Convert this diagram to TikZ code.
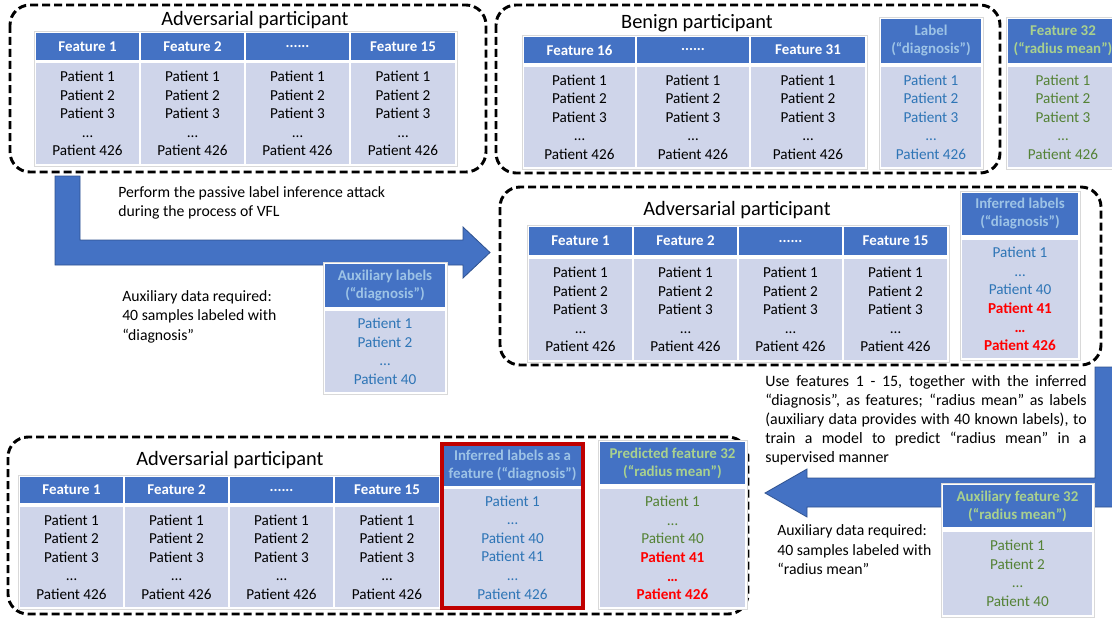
\documentclass[tikz,border=0pt]{standalone}
\usepackage{fontspec}
\setmainfont{Carlito}
\usepackage{tikz}
\definecolor{hdrblue}{HTML}{4472C4}
\definecolor{cellblue}{HTML}{CFD5EA}
\definecolor{lblblue}{HTML}{9DC3E6}
\definecolor{txtblue}{HTML}{2E75B6}
\definecolor{lblgreen}{HTML}{A9D18E}
\definecolor{txtgreen}{HTML}{548235}
\definecolor{txtred}{HTML}{FF0000}
\definecolor{boxred}{HTML}{C00000}
\definecolor{arrowedge}{HTML}{2F528F}
\newcommand{\sixdots}{......}

\begin{document}
\begin{tikzpicture}[x=0.75pt,y=-0.75pt,
    grp/.style={line width=2.2pt,dash pattern=on 6pt off 3pt,rounded corners=15pt},
    frm/.style={draw=black!15,fill=white,line width=0.5pt},
    hdr/.style={fill=hdrblue},
    cell/.style={fill=cellblue},
    hdrtxt/.style={text=white,align=center,font=\bfseries\fontsize{11.2}{13.5}\selectfont},
    rowtxt/.style={align=center,font=\fontsize{11.4}{13.9}\selectfont},
    ttl/.style={font=\fontsize{15.3}{18}\selectfont},
    note/.style={align=left,anchor=west,inner sep=0pt,font=\fontsize{11.8}{14.6}\selectfont},
    bigarrow/.style={fill=hdrblue,draw=arrowedge,line width=0.6pt}]
        \useasboundingbox (0,0) rectangle (1112,617);
        % Arrows
        \draw[bigarrow] (55,176) -- (80,176) -- (80,240) -- (463,240) -- (463,227)
            -- (490,252.5) -- (463,278) -- (463,265) -- (55,265) -- cycle;
        \draw[bigarrow] (1095,367) -- (1125,367) -- (1125,507) -- (807,507) -- (807,517)
            -- (765,493) -- (807,469) -- (807,478) -- (1095,478) -- cycle;

        % Adversarial participant (top)
        \draw[grp] (10,5) rectangle (486,172);
        \node[ttl] (advTop) at (255,20) {Adversarial participant};
        \draw[frm] (34,31) rectangle (457,166);
        \foreach \xa/\xb/\hd [count=\i] in {36/139/Feature 1,141/244/Feature 2,246/349/\sixdots,351/455/Feature 15}{
            \fill[hdr] (\xa,33) rectangle (\xb,60) node[pos=.5,hdrtxt] (topH\i) {\hd};
            \fill[cell] (\xa,63) rectangle (\xb,164) node[pos=.5,rowtxt] (topC\i) {Patient 1\\Patient 2\\Patient 3\\…\\Patient 426};
        }

        % Benign participant
        \draw[grp] (496,5) rectangle (1000,173);
        \node[ttl] (benTop) at (697,23) {Benign participant};
        \draw[frm] (522,35) rectangle (867,169);
        \foreach \xa/\xb/\hd [count=\i] in {524/635/Feature 16,637/749/\sixdots,751/865/Feature 31}{
            \fill[hdr] (\xa,37) rectangle (\xb,63) node[pos=.5,hdrtxt] (benH\i) {\hd};
            \fill[cell] (\xa,67) rectangle (\xb,167) node[pos=.5,rowtxt] (benC\i) {Patient 1\\Patient 2\\Patient 3\\…\\Patient 426};
        }
        \draw[frm] (879,17) rectangle (983,169);
        \fill[hdr] (881,19) rectangle (981,63) node[pos=.5,hdrtxt,text=lblblue] (lblH) {Label\\(“diagnosis”)};
        \fill[cell] (881,67) rectangle (981,167) node[pos=.5,rowtxt,text=txtblue] (lblC) {Patient 1\\Patient 2\\Patient 3\\…\\Patient 426};
        \draw[frm] (1006,17) rectangle (1120,169);
        \fill[hdr] (1008,19) rectangle (1118,63) node[pos=.5,hdrtxt,text=lblgreen] (radH) {Feature 32\\(“radius mean”)};
        \fill[cell] (1008,67) rectangle (1118,167) node[pos=.5,rowtxt,text=txtgreen] (radC) {Patient 1\\Patient 2\\Patient 3\\…\\Patient 426};

        % Step 1 notes
        \node[note] (attackTxt) at (118,203) {Perform the passive label inference attack\\during the process of VFL};
        \node[note] (auxTxtA) at (122,316.5) {Auxiliary data required:\\40 samples labeled with\\“diagnosis”};
        \draw[frm] (323,262) rectangle (447,394);
        \fill[hdr] (325,264) rectangle (445,307) node[pos=.5,hdrtxt,text=lblblue] (auxLblH) {Auxiliary labels\\(“diagnosis”)};
        \fill[cell] (325,311) rectangle (445,392) node[pos=.5,rowtxt,text=txtblue] (auxLblC) {Patient 1\\Patient 2\\…\\Patient 40};

        % Adversarial participant (middle)
        \draw[grp] (500,187) rectangle (1101,365);
        \node[ttl] (advMid) at (737,210) {Adversarial participant};
        \draw[frm] (527,225) rectangle (949,362);
        \foreach \xa/\xb/\hd [count=\i] in {529/632/Feature 1,634/737/Feature 2,739/842/\sixdots,844/947/Feature 15}{
            \fill[hdr] (\xa,227) rectangle (\xb,255) node[pos=.5,hdrtxt] (midH\i) {\hd};
            \fill[cell] (\xa,259) rectangle (\xb,360) node[pos=.5,rowtxt] (midC\i) {Patient 1\\Patient 2\\Patient 3\\…\\Patient 426};
        }
        \draw[frm] (960,191) rectangle (1080,360);
        \fill[hdr] (962,193) rectangle (1078,235) node[pos=.5,hdrtxt,text=lblblue] (infH) {Inferred labels\\(“diagnosis”)};
        \fill[cell] (962,240) rectangle (1078,358) node[pos=.5,rowtxt,text=txtblue] (infC) {Patient 1\\…\\Patient 40\\\textcolor{txtred}{\bfseries Patient 41}\\\textcolor{txtred}{\bfseries …}\\\textcolor{txtred}{\bfseries Patient 426}};

        % Step 2 notes
        \node[rowtxt,align=justify,text width=241pt,inner sep=0pt,font=\fontsize{11.9}{14.3}\selectfont] (trainTxt) at (926,420.5)
            {Use features 1 - 15, together with the inferred\linebreak “diagnosis”, as features; “radius mean” as labels\linebreak (auxiliary data provides with 40 known labels), to\linebreak train a model to predict “radius mean” in a\linebreak supervised manner};
        \node[note] (auxTxtB) at (777,550) {Auxiliary data required:\\40 samples labeled with\\“radius mean”};
        \draw[frm] (941,483) rectangle (1094,617);
        \fill[hdr] (943,485) rectangle (1092,527) node[pos=.5,hdrtxt,text=lblgreen] (auxRadH) {Auxiliary feature 32\\(“radius mean”)};
        \fill[cell] (943,532) rectangle (1092,615) node[pos=.5,rowtxt,text=txtgreen] (auxRadC) {Patient 1\\Patient 2\\…\\Patient 40};

        % Adversarial participant (bottom)
        \draw[grp] (8,437) rectangle (748,614);
        \node[ttl] (advBot) at (230,460) {Adversarial participant};
        \draw[frm] (18,475) rectangle (440,609);
        \foreach \xa/\xb/\hd [count=\i] in {20/123/Feature 1,125/228/Feature 2,230/333/\sixdots,335/439/Feature 15}{
            \fill[hdr] (\xa,477) rectangle (\xb,503) node[pos=.5,hdrtxt] (botH\i) {\hd};
            \fill[cell] (\xa,507) rectangle (\xb,607) node[pos=.5,rowtxt] (botC\i) {Patient 1\\Patient 2\\Patient 3\\…\\Patient 426};
        }
        \fill[white] (442,444) rectangle (583,608);
        \fill[hdr] (444,446) rectangle (581,486) node[pos=.5,hdrtxt,text=lblblue] (featH) {Inferred labels as a\\feature (“diagnosis”)};
        \fill[cell] (444,489) rectangle (581,606) node[pos=.5,rowtxt,text=txtblue] (featC) {Patient 1\\…\\Patient 40\\Patient 41\\…\\Patient 426};
        \draw[boxred,line width=3pt] (442,444) rectangle (583,608);
        \draw[frm] (598,440) rectangle (747,609);
        \fill[hdr] (600,442) rectangle (745,484) node[pos=.5,hdrtxt,text=lblgreen] (predH) {Predicted feature 32\\(“radius mean”)};
        \fill[cell] (600,489) rectangle (745,607) node[pos=.5,rowtxt,text=txtgreen] (predC) {Patient 1\\…\\Patient 40\\\textcolor{txtred}{\bfseries Patient 41}\\\textcolor{txtred}{\bfseries …}\\\textcolor{txtred}{\bfseries Patient 426}};
\end{tikzpicture}
\end{document}
